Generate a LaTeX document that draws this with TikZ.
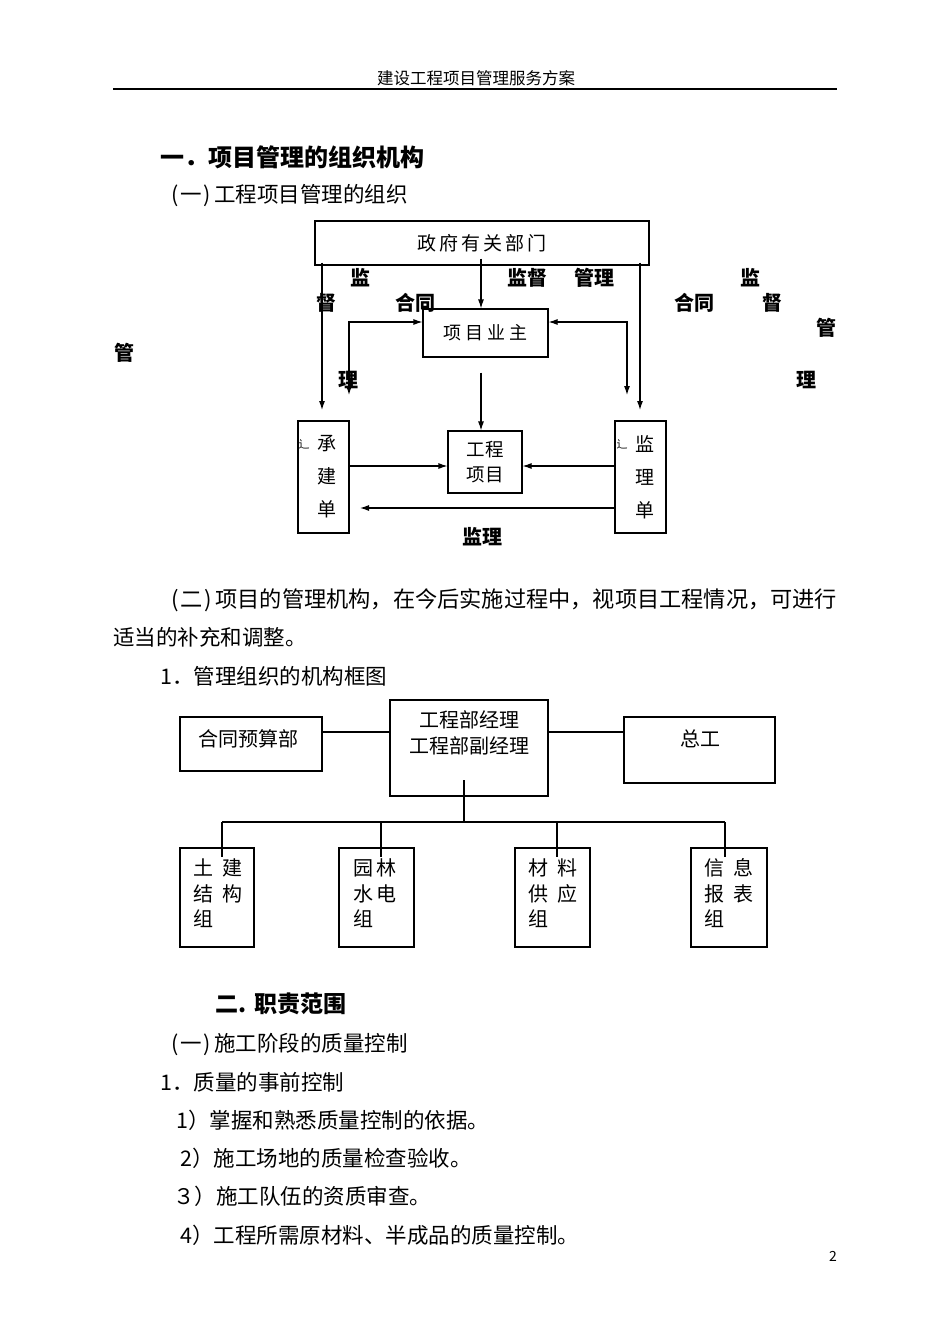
\documentclass[tikz,border=0pt]{standalone}
\usepackage{fontspec}
\setmainfont{Noto Sans CJK SC}
\setsansfont{Noto Sans CJK SC}
\usetikzlibrary{arrows.meta,calc}
\begin{document}
\begin{tikzpicture}[x=1pt,y=-1pt,
  box/.style={draw,line width=1.1pt,inner sep=0pt},
  ln/.style={line width=1.1pt},
  arr/.style={ln,-{Latex[length=9pt,width=6pt]}},
  darr/.style={ln,{Latex[length=9pt,width=6pt]}-{Latex[length=9pt,width=6pt]}},
  body/.style={anchor=west,inner sep=0pt,font=\fontsize{21.5}{21.5}\selectfont},
  head/.style={anchor=west,inner sep=0pt,font=\fontsize{23}{23}\selectfont\bfseries},
  lab/.style={inner sep=0pt,font=\fontsize{20}{20}\selectfont\bfseries},
  vtxt/.style={inner sep=0pt,align=center,font=\fontsize{19}{33}\selectfont},
  gtxt/.style={inner sep=0pt,align=left,anchor=west,font=\fontsize{20}{25.5}\selectfont}
]
\fill[white] (0,0) rectangle (950,1344);
\useasboundingbox (0,0) rectangle (950,1344);

% page header
\node[inner sep=0pt,font=\fontsize{16.5}{16.5}\selectfont] (hdr) at (476,78) {建设工程项目管理服务方案};
\coordinate (hl) at (113,89);
\coordinate (hr) at (837,89);
\draw[line width=1.5pt] (hl) -- (hr);

% headings
\node[head,font=\fontsize{24}{24}\selectfont\bfseries] (t1) at (160,157) {一．项目管理的组织机构};
\node[body] (s1) at (171,196) {(\kern2pt 一\kern2pt)\kern3pt 工程项目管理的组织};

% ===== diagram 1 =====
\node[box,minimum width=334pt,minimum height=44pt,font=\fontsize{19}{19}\selectfont] (gov) at (482,243) {政\kern3pt 府\kern3pt 有\kern3pt 关\kern3pt 部\kern3pt 门};
\node[box,minimum width=125pt,minimum height=48pt,font=\fontsize{18}{18}\selectfont] (owner) at (485.5,333) {项\kern4pt 目\kern4pt 业\kern4pt 主};
\node[box,minimum width=74pt,minimum height=62pt,align=center,font=\fontsize{18.5}{25}\selectfont] (proj) at (485,462) {工程\\项目};
\node[box,minimum width=51pt,minimum height=112pt] (cb) at (323.5,477) {};
\node[box,minimum width=51pt,minimum height=112pt] (jl) at (640.5,477) {};
\node[vtxt] (cbt) at (327,477) {承\\建\\单};
\node[vtxt] (jlt) at (645,477) {监\\理\\单};
\node[inner sep=0pt,font=\fontsize{11}{11}\selectfont] (cbf) at (304,444) {辶};
\node[inner sep=0pt,font=\fontsize{11}{11}\selectfont] (jlf) at (622,444) {辶};

\coordinate (gle) at (322,410);
\coordinate (gre) at (640,410);
\coordinate (cbl) at (349,395);
\coordinate (jlr) at (627,395);
\coordinate (m1) at (0,466);
\coordinate (m2) at (360,508);

\draw[arr] ([yshift=3pt]gov.south -| gle) -- (gle);
\draw[arr] ([yshift=3pt]gov.south -| gre) -- (gre);
\draw[arr] ([yshift=7pt]gov.south -| 481,0) -- (owner.north -| 481,0);
\draw[darr] ([yshift=11pt]owner.west) -| (cbl);
\draw[darr] ([yshift=11pt]owner.east) -| (jlr);
\draw[arr] ([yshift=-15pt]owner.south -| 481,0) -- (proj.north -| 481,0);
\draw[arr] (cb.east |- m1) -- (proj.west |- m1);
\draw[arr] (jl.west |- m1) -- (proj.east |- m1);
\draw[arr] (jl.west |- m2) -- (m2);

% labels of diagram 1
\node[lab] (l1) at (360,278) {监};
\node[lab] (l2) at (527,278) {监督};
\node[lab] (l3) at (594,278) {管理};
\node[lab] (l4) at (750,278) {监};
\node[lab] (l5) at (326,303) {督};
\node[lab] (l6) at (415,303) {合同};
\node[lab] (l7) at (694,303) {合同};
\node[lab] (l8) at (772,303) {督};
\node[lab] (l9) at (826,328) {管};
\node[lab] (l10) at (124,353) {管};
\node[lab] (l11) at (348,380) {理};
\node[lab] (l12) at (806,380) {理};
\node[lab] (l13) at (482,537) {监理};

% paragraph
\node[body,font=\fontsize{22.2}{22.2}\selectfont] (p1) at (171,600) {(\kern2pt 二\kern2pt)\kern3pt 项目的管理机构，在今后实施过程中，视项目工程情况，可进行};
\node[body] (p2) at (113,637) {适当的补充和调整。};
\node[body] (p3) at (160,676) {1．管理组织的机构框图};

% ===== diagram 2 =====
\node[box,minimum width=142pt,minimum height=54pt] (ht) at (251,744) {};
\node[box,minimum width=158pt,minimum height=96pt] (mgr) at (469,748) {};
\node[box,minimum width=151pt,minimum height=66pt] (zg) at (699.5,750) {};
\node[inner sep=0pt,font=\fontsize{20}{20}\selectfont] (htt) at (248,739) {合同预算部};
\node[inner sep=0pt,align=center,font=\fontsize{20}{26}\selectfont] (mgrt) at (469,733) {工程部经理\\工程部副经理};
\node[inner sep=0pt,font=\fontsize{20}{20}\selectfont] (zgt) at (700,739) {总工};

\node[box,minimum width=74pt,minimum height=99pt] (b1) at (217,897.5) {};
\node[box,minimum width=75pt,minimum height=99pt] (b2) at (376.5,897.5) {};
\node[box,minimum width=75pt,minimum height=99pt] (b3) at (552.5,897.5) {};
\node[box,minimum width=76pt,minimum height=99pt] (b4) at (729,897.5) {};
\node[gtxt] (b1t) at (193,893.5) {土\hspace{9pt}建\\结\hspace{9pt}构\\组};
\node[gtxt] (b2t) at (353,893.5) {园\hspace{3pt}林\\水\hspace{3pt}电\\组};
\node[gtxt] (b3t) at (528,893.5) {材\hspace{9pt}料\\供\hspace{9pt}应\\组};
\node[gtxt] (b4t) at (704,893.5) {信\hspace{9pt}息\\报\hspace{9pt}表\\组};

\coordinate (y732) at (0,732);
\coordinate (vt) at (464,780);
\coordinate (bus) at (464,822);
\coordinate (busl) at (222,822);
\coordinate (busr) at (725,822);
\draw[ln] (ht.east |- y732) -- (mgr.west |- y732);
\draw[ln] (mgr.east |- y732) -- (zg.west |- y732);
\draw[ln] (vt) -- (bus);
\draw[ln] (busl) -- (busr);
\draw[ln] (busl) -- ([yshift=-10pt]b1.north -| busl);
\draw[ln] (381,822) -- ([yshift=-10pt]b2.north -| 381,0);
\draw[ln] (557,822) -- ([yshift=-10pt]b3.north -| 557,0);
\draw[ln] (busr) -- ([yshift=-10pt]b4.north -| busr);

% section 2
\node[head] (t2) at (215,1004) {二.\hspace{8pt}职责范围};
\node[body] (s2) at (171,1044) {(\kern2pt 一\kern2pt)\kern3pt 施工阶段的质量控制};
\node[body] (s3) at (160,1082) {1．质量的事前控制};
\node[body] (i1) at (176,1120) {1）掌握和熟悉质量控制的依据。};
\node[body] (i2) at (180,1158) {2）施工场地的质量检查验收。};
\node[body] (i3) at (173,1196) {３）施工队伍的资质审查。};
\node[body] (i4) at (180,1235) {4）工程所需原材料、半成品的质量控制。};

\node[inner sep=0pt,font=\rmfamily\fontsize{14}{14}\selectfont] (pg) at (833,1256) {2};
\end{tikzpicture}
\end{document}
